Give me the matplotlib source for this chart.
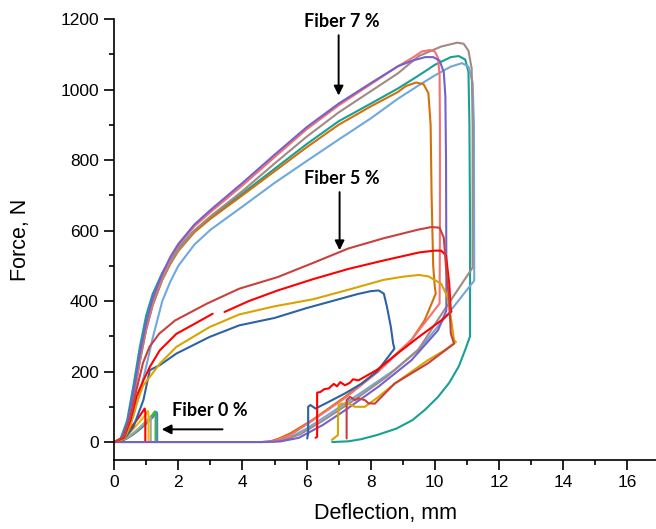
import matplotlib
matplotlib.use("Agg")
import matplotlib.pyplot as plt
from matplotlib.ticker import MultipleLocator

# ---------------- data ----------------
# Fiber 7 %
purple7_x = [0, 0.2, 0.4, 0.6, 0.8, 1.0, 1.2, 1.5, 1.75, 2.0, 2.5, 3.0, 4.0, 5.0, 6.0, 7.0, 8.0, 8.85,
             9.3, 9.7, 9.95, 10.15, 10.28, 10.33, 10.35, 10.36, 10.36,
             10.1, 9.27, 8.24, 7.2, 6.5, 5.76, 5.2, 4.6, 0]
purple7_y = [0, 8, 50, 140, 250, 340, 408, 478, 525, 562, 617, 658, 735, 815, 893, 960, 1018, 1066,
             1082, 1092, 1092, 1082, 1050, 980, 800, 500, 373,
             317, 232, 157, 90, 48, 12, 2, 0, 0]

pink7_x = [0, 0.2, 0.4, 0.6, 0.8, 1.0, 1.2, 1.5, 1.75, 2.0, 2.5, 3.0, 4.0, 5.0, 6.0, 7.0, 8.0, 8.85,
           9.3, 9.6, 9.85, 10.0, 10.1, 10.15, 10.16, 10.16, 10.15,
           9.7, 9.27, 8.24, 7.2, 6.17, 5.5, 5.0, 4.6]
pink7_y = [0, 8, 45, 130, 240, 330, 400, 472, 520, 556, 612, 652, 728, 808, 887, 955, 1015, 1066,
           1090, 1108, 1112, 1108, 1090, 1040, 900, 600, 393,
           340, 290, 200, 125, 60, 20, 3, 0]

brown7_x = [0, 0.2, 0.4, 0.6, 0.8, 1.0, 1.2, 1.5, 1.75, 2.0, 2.5, 3.0, 4.0, 5.0, 6.0, 7.0, 8.0, 8.85,
            9.5, 10.2, 10.7, 10.9, 11.05, 11.15, 11.18, 11.18,
            10.3, 9.47, 8.5, 7.5, 6.5, 5.8, 5.2, 4.8, 0]
brown7_y = [0, 6, 40, 125, 230, 320, 390, 462, 508, 545, 600, 640, 712, 790, 866, 935, 995, 1046,
            1095, 1122, 1133, 1130, 1110, 1060, 900, 495,
            375, 260, 185, 120, 60, 22, 3, 0, 0]

teal7_x = [0, 0.2, 0.4, 0.6, 0.8, 1.0, 1.2, 1.5, 1.75, 2.0, 2.5, 3.0, 4.0, 5.0, 6.0, 7.0, 8.0, 8.85,
           9.5, 10.0, 10.5, 10.75, 10.95, 11.05, 11.08, 11.1, 11.1,
           10.95, 10.75, 10.45, 10.1, 9.7, 9.3, 8.8, 8.2, 7.7, 7.3, 6.8]
teal7_y = [0, 10, 60, 160, 270, 360, 420, 480, 518, 550, 600, 638, 705, 775, 845, 910, 960, 1003,
           1040, 1070, 1092, 1095, 1085, 1050, 900, 600, 300,
           262, 215, 168, 128, 92, 62, 38, 20, 8, 2, 0]

orange7_x = [0, 0.2, 0.4, 0.6, 0.8, 1.0, 1.2, 1.5, 1.75, 2.0, 2.5, 3.0, 4.0, 5.0, 6.0, 7.0, 8.0, 8.85,
             9.1, 9.42, 9.65, 9.8, 9.87, 9.9, 9.95, 10.0, 10.03,
             9.68, 9.27, 8.24, 7.2, 6.17, 5.5, 5.14, 4.8]
orange7_y = [0, 6, 40, 125, 230, 320, 388, 460, 505, 542, 595, 633, 700, 768, 836, 900, 952, 993,
             1010, 1020, 1015, 990, 900, 700, 500, 440, 421,
             345, 289, 204, 128, 62, 25, 10, 0]

lblue7_x = [0, 0.2, 0.4, 0.6, 0.8, 1.0, 1.2, 1.5, 1.75, 2.0, 2.5, 3.0, 4.0, 5.0, 6.0, 7.0, 8.0, 8.85,
            9.5, 10.0, 10.5, 10.85, 11.05, 11.18, 11.22, 11.23,
            10.4, 9.57, 8.75, 7.7, 6.8, 6.0, 5.5, 5.0, 4.6]
lblue7_y = [0, 4, 25, 75, 140, 215, 295, 400, 455, 500, 560, 602, 668, 735, 797, 858, 918, 974,
            1012, 1040, 1065, 1075, 1065, 1020, 900, 458,
            362, 269, 205, 140, 85, 38, 14, 2, 0]

# Fiber 5 %
brick5_x = [0, 0.3, 0.5, 0.7, 0.9, 1.1, 1.4, 1.9, 2.9, 3.9, 5.1, 6.2, 7.3, 8.4, 9.5, 9.9, 10.15,
            10.28, 10.35, 10.45, 10.5, 10.6,
            9.78, 8.75, 8.13, 7.93, 7.82, 7.62, 7.51, 7.36, 7.25, 7.25, 7.25]
brick5_y = [0, 15, 70, 150, 225, 270, 307, 345, 393, 435, 468, 508, 549, 578, 603, 610, 608,
            580, 496, 402, 308, 279,
            223, 166, 109, 110, 119, 124, 119, 128, 119, 60, 10]

red5a_x = [0, 0.3, 0.5, 0.7, 0.91, 1.11, 1.42, 1.94, 2.5, 3.07]
red5a_y = [0, 12, 60, 130, 175, 213, 260, 307, 335, 364]
red5b_x = [3.44, 4.2, 5.1, 6.2, 7.3, 8.4, 9.52, 10.0, 10.2, 10.35, 10.45, 10.5, 10.52,
           10.2, 9.47, 8.96, 8.2, 7.62, 7.45, 7.35, 7.2, 7.05, 6.95, 6.85, 6.69, 6.55, 6.43,
           6.33, 6.33, 6.33, 6.28]
red5b_y = [369, 400, 430, 462, 491, 515, 538, 543, 543, 529, 450, 373, 370,
           345, 296, 260, 205, 175, 178, 168, 161, 170, 158, 165, 152, 150, 142,
           140, 60, 15, 12]

gold5_x = [0, 0.3, 0.5, 0.7, 0.9, 1.11, 1.42, 1.94, 2.97, 3.9, 5.0, 6.2, 7.3, 8.4, 9.0, 9.5,
           9.8, 10.2, 10.4, 10.5, 10.6, 10.66,
           10.3, 9.78, 8.75, 8.24, 7.82, 7.51, 7.31, 7.1, 7.0, 6.98, 6.98, 6.79]
gold5_y = [0, 8, 45, 110, 160, 185, 222, 270, 326, 362, 385, 405, 432, 460, 469, 474,
           470, 449, 411, 354, 289, 284,
           260, 232, 166, 128, 100, 100, 109, 109, 105, 60, 20, 6]

dblue5_x = [0, 0.29, 0.6, 0.91, 1.11, 1.42, 1.94, 2.97, 3.9, 5.0, 6.0, 7.0, 7.6, 8.0, 8.25, 8.41,
            8.51, 8.63, 8.7, 8.74,
            8.2, 7.72, 7.2, 6.69, 6.28, 6.12, 6.05, 6.05, 6.02]
dblue5_y = [0, 6, 43, 119, 204, 218, 251, 298, 331, 352, 380, 405, 420, 428, 430, 421,
            383, 326, 280, 265,
            200, 166, 138, 114, 95, 105, 100, 25, 10]

# Fiber 0 %
red0_x = [0, 0.1, 0.3, 0.5, 0.7, 0.9, 0.95, 0.97, 0.97]
red0_y = [0, 2, 15, 38, 62, 88, 95, 85, 0]
gold0_x = [0, 0.2, 0.4, 0.6, 0.8, 1.0, 1.05, 1.07, 1.07]
gold0_y = [0, 3, 18, 38, 58, 80, 88, 80, 0]
gray0_x = [0, 0.2, 0.4, 0.6, 0.8, 1.0, 1.12, 1.14, 1.14]
gray0_y = [0, 2, 12, 26, 42, 60, 72, 65, 0]
green0_x = [0, 0.2, 0.4, 0.6, 0.8, 1.0, 1.2, 1.27, 1.29, 1.29]
green0_y = [0, 2, 12, 25, 40, 58, 78, 87, 80, 0]
blue0_x = [0, 0.2, 0.4, 0.6, 0.8, 1.0, 1.2, 1.32, 1.34, 1.34]
blue0_y = [0, 2, 10, 22, 36, 52, 70, 85, 80, 0]

x_ticks = [0, 2, 4, 6, 8, 10, 12, 14, 16]
y_ticks = [0, 200, 400, 600, 800, 1000, 1200]

# ---------------- figure ----------------
plt.rcParams['font.family'] = ['Liberation Sans', 'DejaVu Sans']
fig = plt.figure(figsize=(6.56, 5.29), dpi=100)
ax = fig.add_axes([0.1741, 0.1304, 0.8259, 0.8336])

lw = 1.5
series = [
    (blue0_x, blue0_y, '#4F81BD'),
    (green0_x, green0_y, '#3CB44B'),
    (gray0_x, gray0_y, '#A5A5A5'),
    (gold0_x, gold0_y, '#F0B800'),
    (red0_x, red0_y, '#FF0000'),
    (teal7_x, teal7_y, '#17A094'),
    (lblue7_x, lblue7_y, '#6FA8DC'),
    (orange7_x, orange7_y, '#D2700A'),
    (brown7_x, brown7_y, '#A08A84'),
    (pink7_x, pink7_y, '#F87070'),
    (purple7_x, purple7_y, '#7462C8'),
    (dblue5_x, dblue5_y, '#2E62A4'),
    (gold5_x, gold5_y, '#D8A400'),
    (red5a_x, red5a_y, '#FF0000'),
    (red5b_x, red5b_y, '#FF0000'),
    (brick5_x, brick5_y, '#C9403E'),
]
for xs, ys, c in series:
    ax.plot(xs, ys, color=c, lw=lw, solid_joinstyle='round', solid_capstyle='round')

ax.set_xlim(0, 16.9)
ax.set_ylim(-51, 1200)
ax.set_xticks(x_ticks)
ax.set_yticks(y_ticks)
ax.xaxis.set_minor_locator(MultipleLocator(1))
ax.yaxis.set_minor_locator(MultipleLocator(100))
ax.tick_params(which='major', direction='out', length=7, width=1.2, labelsize=12.5, pad=4)
ax.tick_params(which='minor', direction='out', length=3.8, width=1.2)
for s in ['top', 'right']:
    ax.spines[s].set_visible(False)
for s in ['left', 'bottom']:
    ax.spines[s].set_linewidth(1.2)

ax.set_xlabel('Deflection, mm', fontsize=15.5, labelpad=9)
ax.set_ylabel('Force, N', fontsize=15.5, labelpad=21)

afont = dict(fontsize=13, fontweight='bold', family=['Lato', 'DejaVu Sans'])
ax.text(7.1, 1192, 'Fiber 7 %', ha='center', va='center', **afont)
ax.text(7.1, 748, 'Fiber 5 %', ha='center', va='center', **afont)
ax.text(2.97, 89, 'Fiber 0 %', ha='center', va='center', **afont)

ap = dict(arrowstyle='-|>', color='black', lw=1.4, mutation_scale=14, shrinkA=0, shrinkB=0)
ax.annotate('', xy=(7.0, 983), xytext=(7.0, 1154), arrowprops=ap)
ax.annotate('', xy=(7.03, 544), xytext=(7.03, 709), arrowprops=ap)
ax.annotate('', xy=(1.48, 36), xytext=(3.38, 36), arrowprops=ap)

fig.savefig('out.png', dpi=100)
